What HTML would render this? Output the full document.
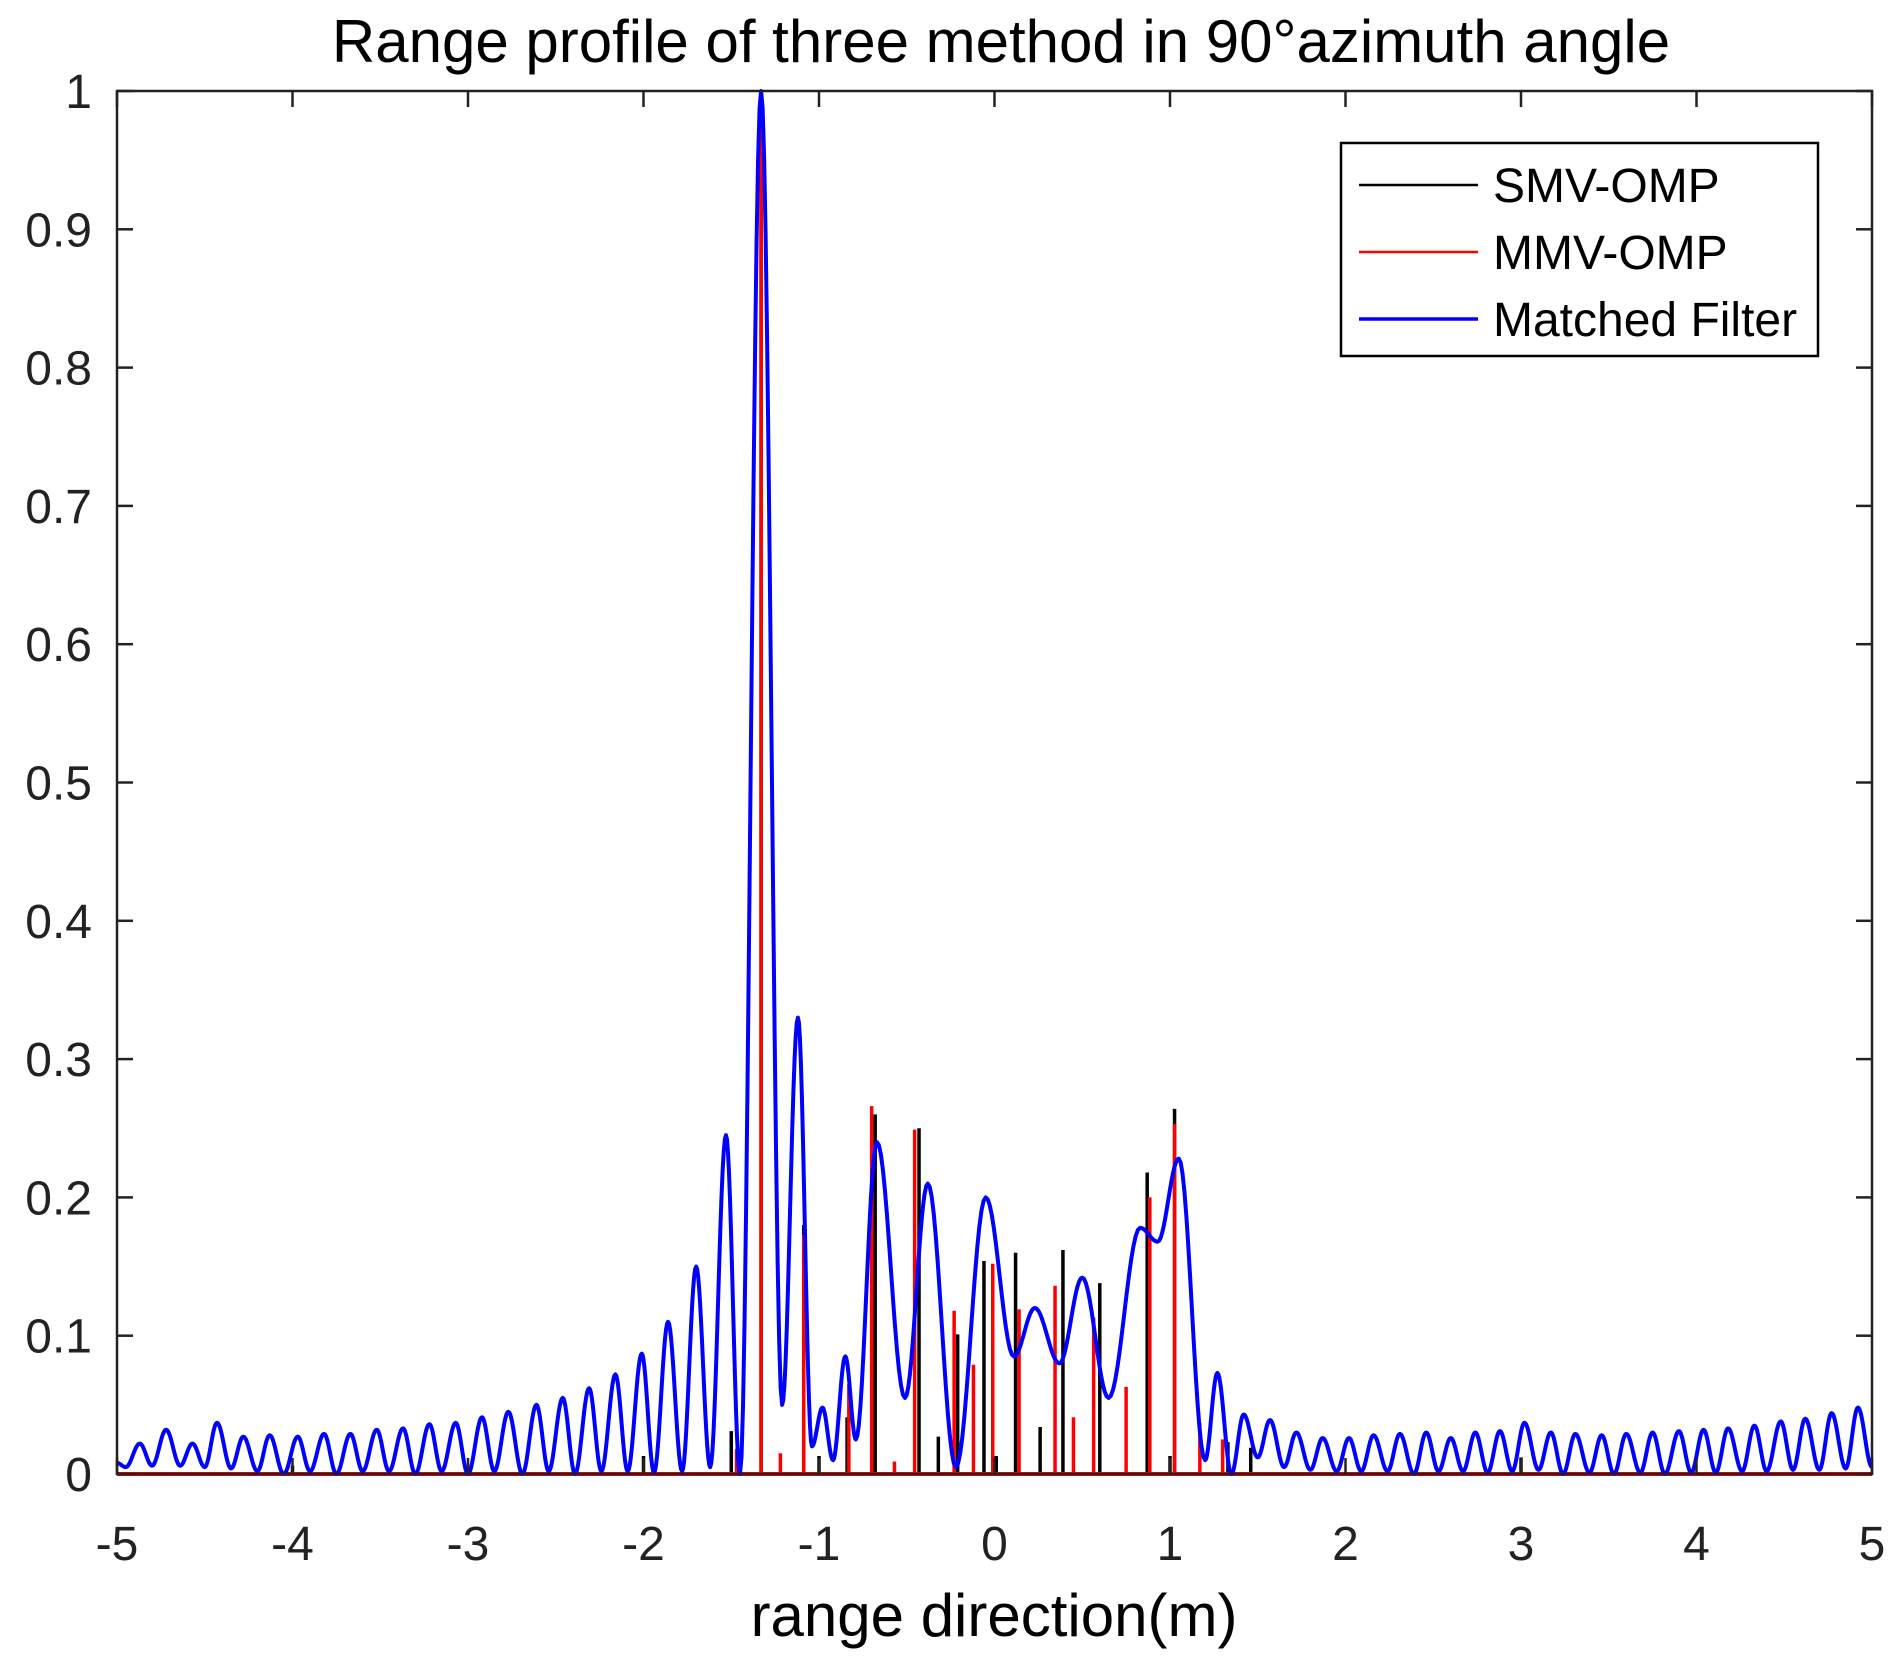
<!DOCTYPE html>
<html><head><meta charset="utf-8"><style>
html,body{margin:0;padding:0;background:#fff;}
svg{display:block;font-family:"Liberation Sans",Arial,sans-serif;}
</style></head><body>
<svg id="chart" width="1897" height="1666" viewBox="0 0 1897 1666" xmlns="http://www.w3.org/2000/svg">
<rect x="0" y="0" width="1897" height="1666" fill="#fff"/>
<text x="1001" y="62" font-size="60" text-anchor="middle" fill="#000">Range profile of three method in 90°azimuth angle</text>
<text x="994" y="1636" font-size="60" text-anchor="middle" fill="#000">range direction(m)</text>
<g id="plot"></g>
<g id="axes"></g>
<g>
<rect x="1341" y="143" width="477" height="213" fill="#fff" stroke="#000" stroke-width="2.5"/>
<line x1="1359" y1="185" x2="1478" y2="185" stroke="#000" stroke-width="2.5"/>
<text x="1493" y="202" font-size="48" fill="#000">SMV-OMP</text>
<line x1="1359" y1="252" x2="1478" y2="252" stroke="#f00" stroke-width="2.5"/>
<text x="1493" y="269" font-size="48" fill="#000">MMV-OMP</text>
<line x1="1359" y1="319" x2="1478" y2="319" stroke="#00f" stroke-width="3.5"/>
<text x="1493" y="336" font-size="48" fill="#000">Matched Filter</text>
</g>
</svg>
<script>
// Matched filter extrema (alternating nulls and peaks)
const mfX = [-5,-4.95,-4.87,-4.8,-4.72,-4.64,-4.57,-4.5,-4.43,-4.35,-4.28,-4.2,-4.13,-4.05,-3.97,-3.9,-3.82,-3.75,-3.67,-3.6,-3.52,-3.45,-3.37,-3.3,-3.22,-3.15,-3.07,-3.0,-2.92,-2.85,-2.77,-2.69,-2.61,-2.54,-2.46,-2.39,-2.31,-2.24,-2.16,-2.09,-2.01,-1.94,-1.86,-1.78,-1.70,-1.62,-1.53,-1.45,-1.33,-1.21,-1.12,-1.04,-0.98,-0.92,-0.85,-0.79,-0.67,-0.51,-0.38,-0.22,-0.05,0.11,0.23,0.37,0.5,0.65,0.83,0.93,1.05,1.2,1.27,1.35,1.42,1.5,1.57,1.65,1.72,1.8,1.87,1.95,2.02,2.09,2.16,2.24,2.31,2.39,2.46,2.53,2.6,2.67,2.74,2.81,2.88,2.95,3.02,3.1,3.17,3.24,3.31,3.39,3.46,3.53,3.6,3.68,3.75,3.82,3.9,3.97,4.04,4.11,4.18,4.26,4.33,4.4,4.48,4.55,4.62,4.7,4.77,4.85,4.92,5];
const mfY = [0.008,0.005,0.022,0.006,0.032,0.006,0.022,0.005,0.037,0.004,0.027,0.002,0.028,0.0,0.027,0.002,0.029,0.0,0.029,0.002,0.032,0.002,0.033,0.0,0.036,0.002,0.037,0.0,0.041,0.002,0.045,0.0,0.05,0.002,0.055,0.0,0.062,0.002,0.072,0.002,0.087,0.001,0.11,0.002,0.15,0.005,0.245,0.0,1.0,0.05,0.33,0.02,0.048,0.01,0.085,0.025,0.24,0.055,0.21,0.005,0.2,0.085,0.12,0.08,0.142,0.055,0.178,0.168,0.228,0.01,0.073,0.0,0.043,0.012,0.039,0.005,0.03,0.003,0.026,0.002,0.026,0.002,0.028,0.002,0.029,0.0,0.03,0.002,0.026,0.002,0.03,0.001,0.031,0.002,0.037,0.003,0.03,0.0,0.029,0.001,0.028,0.0,0.029,0.001,0.03,0.0,0.031,0.001,0.032,0.001,0.033,0.002,0.035,0.002,0.038,0.003,0.04,0.003,0.044,0.004,0.048,0.005];
// SMV-OMP stems
const smvX = [-4.0,-2.0,-1.5,-1.33,-1.087,-1.0,-0.84,-0.68,-0.43,-0.32,-0.21,-0.06,0.01,0.12,0.26,0.39,0.60,0.87,1.0,1.026,1.33,1.46,3.0];
const smvY = [0.006,0.013,0.031,0.98,0.18,0.013,0.041,0.26,0.25,0.027,0.101,0.154,0.013,0.16,0.034,0.162,0.138,0.218,0.013,0.264,0.023,0.019,0.012];
// MMV-OMP stems
const mmvX = [-1.47,-1.33,-1.22,-1.087,-0.83,-0.70,-0.57,-0.455,-0.23,-0.12,-0.01,0.14,0.345,0.45,0.565,0.75,0.885,1.026,1.17,1.3];
const mmvY = [0.018,1.0,0.015,0.173,0.065,0.266,0.009,0.249,0.118,0.079,0.152,0.119,0.136,0.041,0.113,0.063,0.2,0.253,0.037,0.025];
const xTicks = [-5,-4,-3,-2,-1,0,1,2,3,4,5];
const yTicks = [0,0.1,0.2,0.3,0.4,0.5,0.6,0.7,0.8,0.9,1];
const yTickLabels = ["0","0.1","0.2","0.3","0.4","0.5","0.6","0.7","0.8","0.9","1"];

const L=117,R=1872,T=91,B=1474;
const sx=v=>L+(v+5)/10*(R-L);
const sy=v=>B-v*(B-T);
const NS="http://www.w3.org/2000/svg";
const plot=document.getElementById('plot');
const axes=document.getElementById('axes');
function mk(tag,attrs,parent){const e=document.createElementNS(NS,tag);for(const k in attrs)e.setAttribute(k,attrs[k]);parent.appendChild(e);return e;}

smvX.forEach((x,i)=>{
  const l=mk('line',{x1:sx(x),x2:sx(x),y1:sy(0),y2:sy(smvY[i]),stroke:'#000','stroke-width':3.5},plot);
  
  
});
mmvX.forEach((x,i)=>{
  const l=mk('line',{x1:sx(x),x2:sx(x),y1:sy(0),y2:sy(mmvY[i]),stroke:'#f00','stroke-width':3.5},plot);
  
  
});
const bl=mk('line',{x1:L,x2:R,y1:sy(0),y2:sy(0),stroke:'#f00','stroke-width':4},plot);



let d='';
for(let i=0;i<mfX.length-1;i++){
  const x0=mfX[i],x1=mfX[i+1],y0=mfY[i],y1=mfY[i+1];
  const n=14;
  for(let k=(i===0?0:1);k<=n;k++){
    const t=k/n,x=x0+(x1-x0)*t,y=y0+(y1-y0)*(1-Math.cos(Math.PI*t))/2;
    d+=(d?'L':'M')+sx(x).toFixed(2)+','+sy(y).toFixed(2);
  }
}
const mf=mk('path',{d:d,fill:'none',stroke:'#00f','stroke-width':4,'stroke-linejoin':'round'},plot);



const box=mk('rect',{x:L,y:T,width:R-L,height:B-T,fill:'none',stroke:'#222','stroke-width':2.5},axes);


xTicks.forEach(v=>{
  mk('line',{x1:sx(v),x2:sx(v),y1:B,y2:B-16,stroke:'#222','stroke-width':2.5},axes);
  mk('line',{x1:sx(v),x2:sx(v),y1:T,y2:T+16,stroke:'#222','stroke-width':2.5},axes);
  const t=mk('text',{x:sx(v),y:1560,'font-size':48,'text-anchor':'middle',fill:'#222'},axes);
  t.textContent=String(v);
  
  
});
yTicks.forEach((v,i)=>{
  mk('line',{x1:L,x2:L+16,y1:sy(v),y2:sy(v),stroke:'#222','stroke-width':2.5},axes);
  mk('line',{x1:R,x2:R-16,y1:sy(v),y2:sy(v),stroke:'#222','stroke-width':2.5},axes);
  const t=mk('text',{x:92,y:sy(v)+17,'font-size':48,'text-anchor':'end',fill:'#222'},axes);
  t.textContent=yTickLabels[i];
  
  
});
</script>
</body></html>
